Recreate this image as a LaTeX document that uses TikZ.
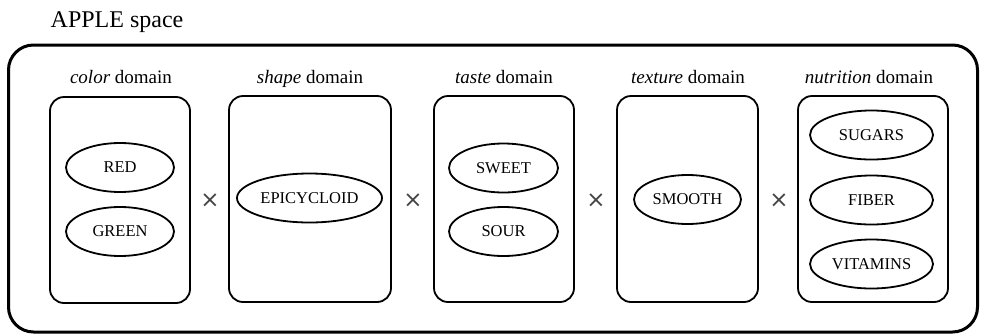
\documentclass[tikz,border=0pt]{standalone}
\usepackage{fontspec}
\setmainfont{Liberation Serif}
\newfontfamily\crossfont{DejaVu Sans}
\usetikzlibrary{shapes.geometric}
\definecolor{crossgray}{HTML}{454545}
\tikzset{
  outerbox/.style={draw, line width=3pt, rounded corners=25pt, minimum width=969pt, minimum height=287pt, inner sep=0pt},
  domainbox/.style={draw, line width=1.8pt, rounded corners=14pt, minimum height=206pt, inner sep=0pt},
  valnode/.style={draw, ellipse, line width=1.8pt, minimum height=49pt, inner sep=0pt, font=\fontsize{16.5}{19}\selectfont},
  domainlabel/.style={anchor=base, inner sep=0pt, font=\fontsize{19}{23}\selectfont},
  crosssign/.style={inner sep=0pt, text=crossgray, font=\crossfont\fontsize{23}{26}\selectfont},
}
\begin{document}
\begin{tikzpicture}[x=1pt,y=-1pt]
\useasboundingbox (0,0) rectangle (984,335);
\node[anchor=base, inner sep=0pt, font=\fontsize{24}{28}\selectfont] (title) at (117,27) {APPLE space};
\node[outerbox] (outer) at (493,188.5) {};
% domain boxes
\node[domainbox, minimum width=140pt] (colorbox) at (120,200) {};
\node[domainbox, minimum width=162pt] (shapebox) at (310,199) {};
\node[domainbox, minimum width=140pt] (tastebox) at (504,199) {};
\node[domainbox, minimum width=141pt] (texturebox) at (687.5,199) {};
\node[domainbox, minimum width=150pt] (nutritionbox) at (873,199) {};
% labels
\node[domainlabel] (colorlab) at (121,83) {\textit{color} domain};
\node[domainlabel] (shapelab) at (310,83) {\textit{shape} domain};
\node[domainlabel] (tastelab) at (504,83) {\textit{taste} domain};
\node[domainlabel] (texturelab) at (688,83) {\textit{texture} domain};
\node[domainlabel] (nutritionlab) at (869,83) {\textit{nutrition} domain};
% values
\node[valnode, minimum width=108pt] (red) at (120,167.5) {RED};
\node[valnode, minimum width=108pt] (green) at (120,231.5) {GREEN};
\node[valnode, minimum width=145pt] (epi) at (309.5,198) {EPICYCLOID};
\node[valnode, minimum width=109pt] (sweet) at (503.5,168) {SWEET};
\node[valnode, minimum width=109pt] (sour) at (503.5,231.5) {SOUR};
\node[valnode, minimum width=107pt] (smooth) at (687.5,199.5) {SMOOTH};
\node[valnode, minimum width=123pt] (sugars) at (871.5,135) {SUGARS};
\node[valnode, minimum width=123pt] (fiber) at (871.5,200) {FIBER};
\node[valnode, minimum width=123pt] (vitamins) at (871.5,264) {VITAMINS};
% crosses
\node[crosssign] (x1) at (210,201) {×};
\node[crosssign] (x2) at (413,201) {×};
\node[crosssign] (x3) at (596,201) {×};
\node[crosssign] (x4) at (779,201) {×};
\end{tikzpicture}
\end{document}
